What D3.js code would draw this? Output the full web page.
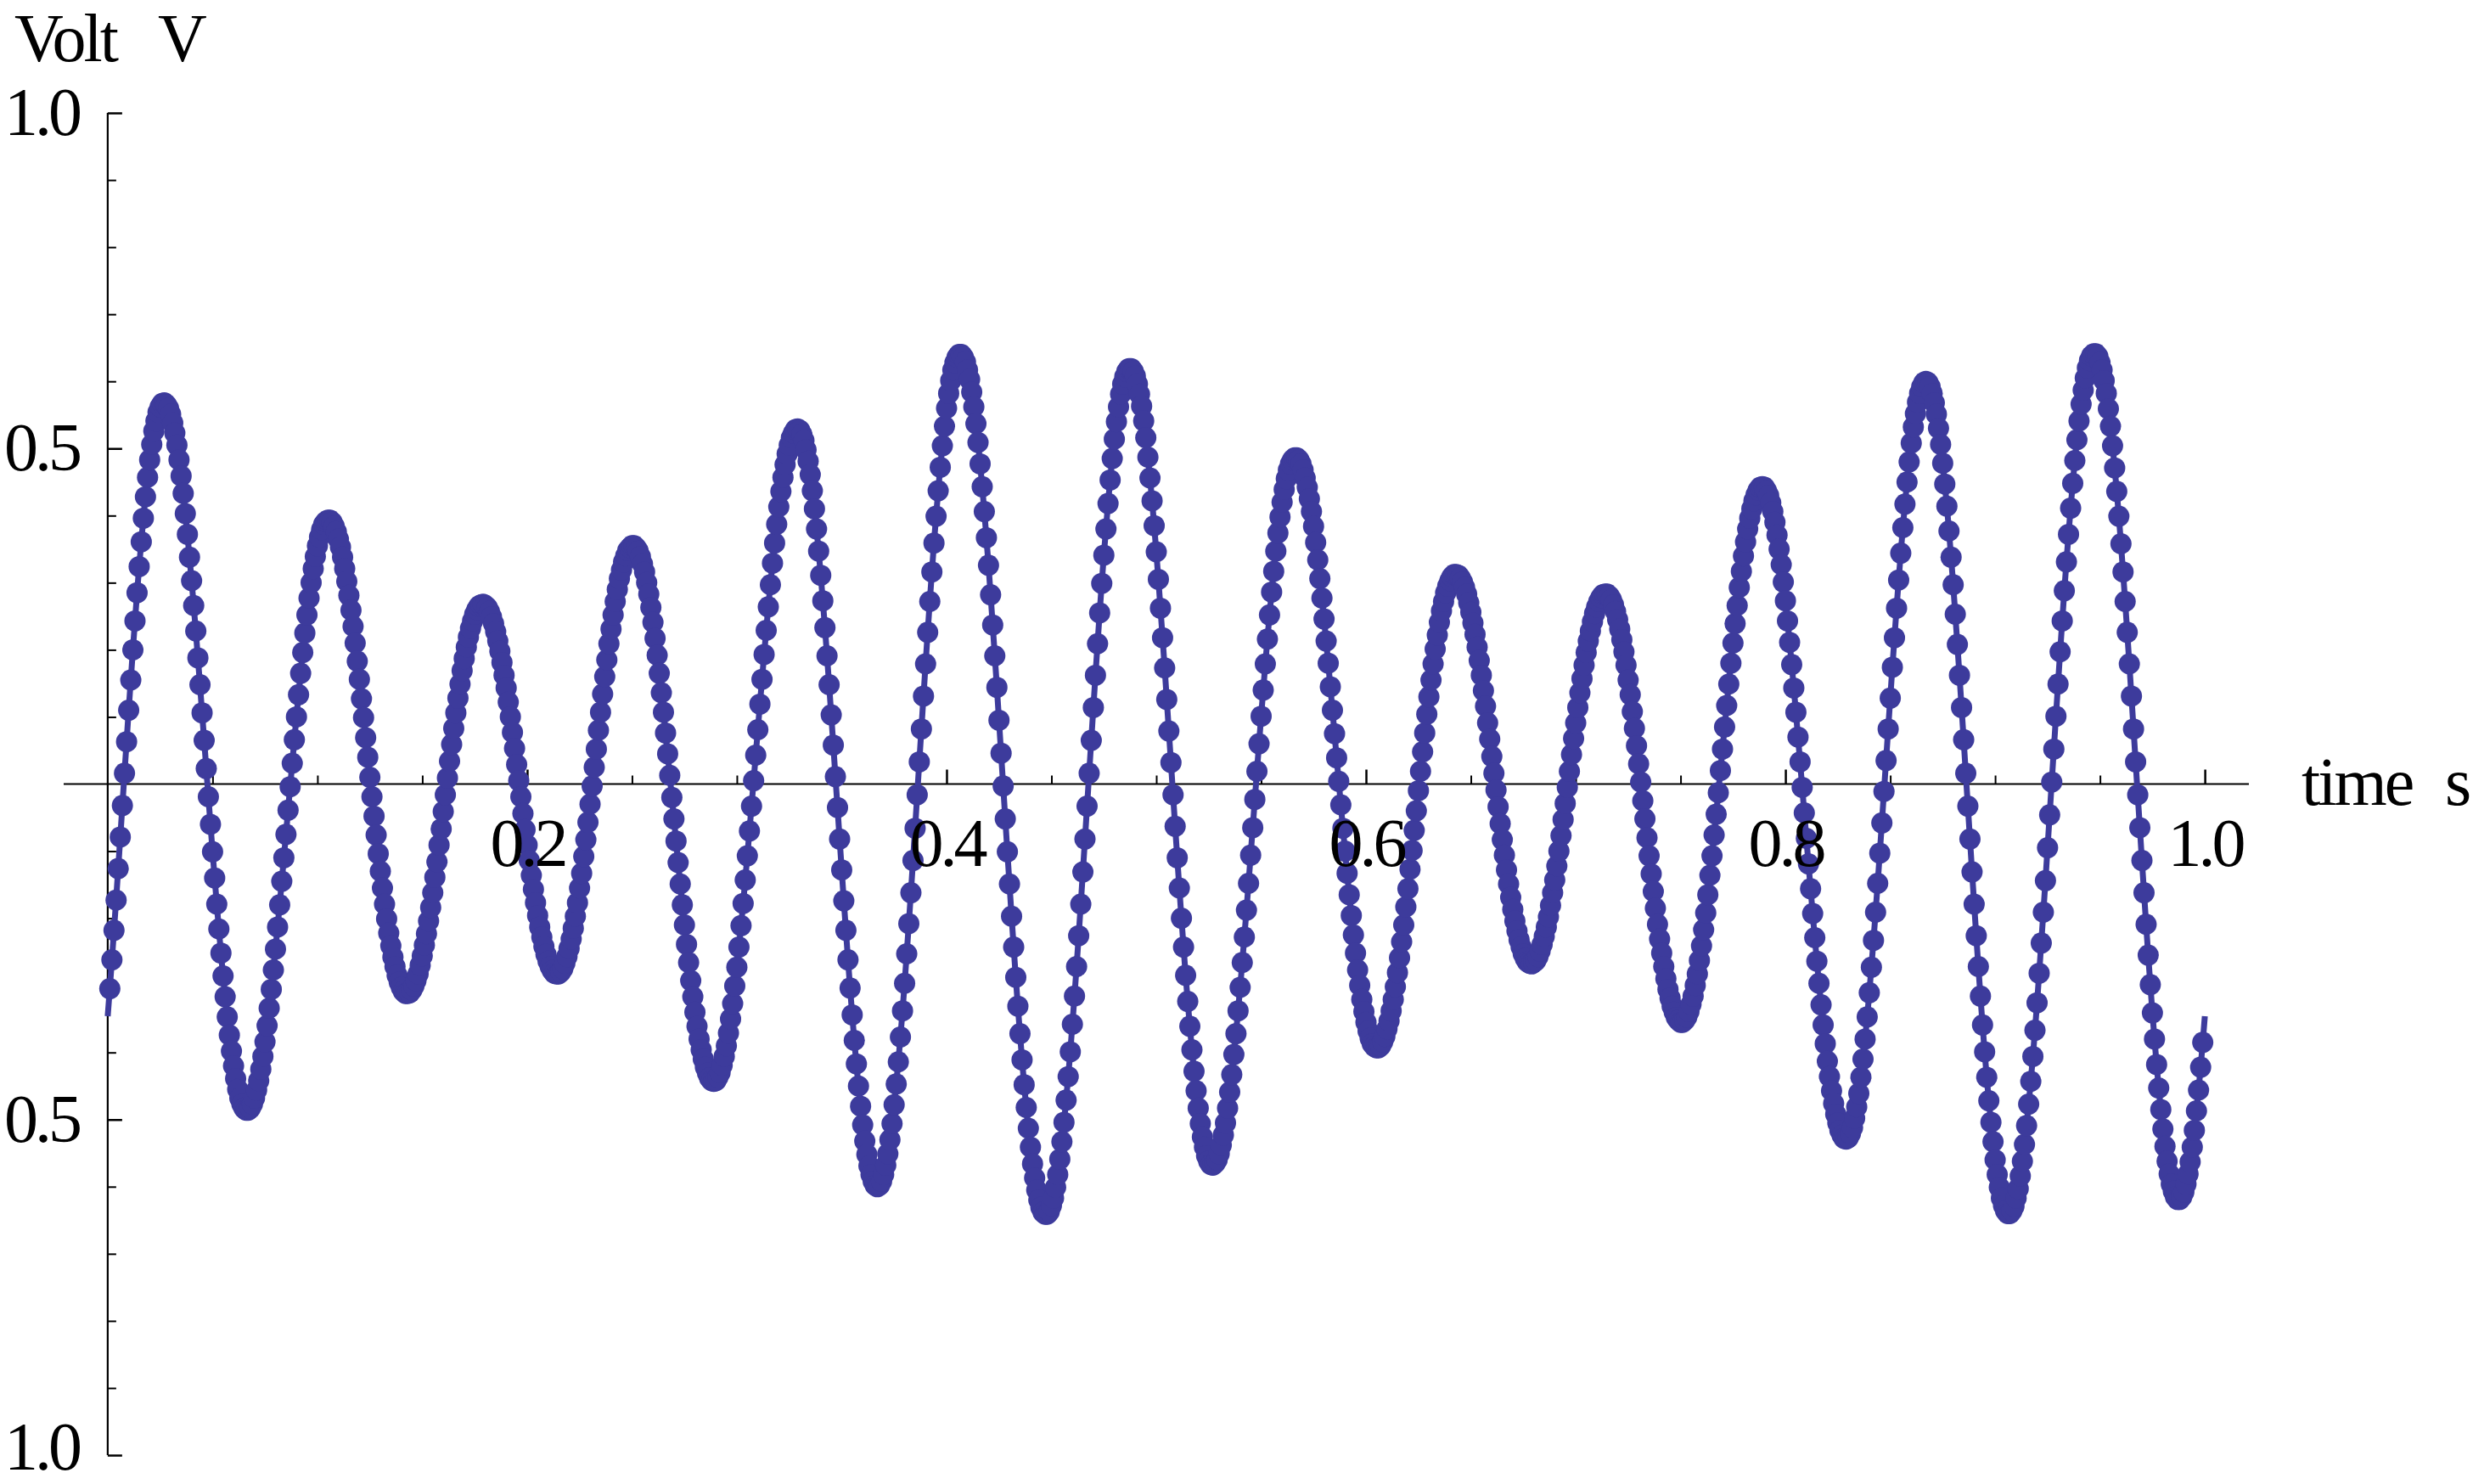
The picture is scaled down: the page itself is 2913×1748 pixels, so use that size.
<!DOCTYPE html>
<html><head><meta charset="utf-8">
<script src="https://cdn.jsdelivr.net/npm/d3@7"></script>
<style>
html,body{margin:0;padding:0;background:#fff;}
svg{display:block;background:#fff;}
</style></head><body>
<svg id="chart" width="2913" height="1748"></svg>
<script>
const sampleStep = 0.001;
const volts = [
-0.346,-0.305,-0.262,-0.218,-0.173,-0.126,-0.079,-0.032,0.016,0.063,0.110,0.155,0.200,0.243,0.285,0.324,0.361,0.396,0.428,0.457,0.483,0.506,0.526,0.541,0.554,0.562,0.567,
0.568,0.565,0.560,0.551,0.538,0.523,0.505,0.483,0.459,0.433,0.403,0.372,0.338,0.303,0.266,0.228,0.188,0.148,0.106,0.065,0.023,-0.019,-0.060,-0.101,-0.140,-0.179,-0.216,-0.252,-0.286,-0.317,-0.347,-0.374,-0.398,-0.420,-0.439,-0.455,-0.468,-0.477,-0.483,-0.486,
-0.486,-0.483,-0.477,-0.468,-0.456,-0.442,-0.425,-0.406,-0.384,-0.360,-0.334,-0.306,-0.277,-0.246,-0.213,-0.180,-0.145,-0.110,-0.075,-0.039,-0.004,0.031,0.066,0.100,0.133,0.165,0.196,0.225,0.252,0.277,0.300,0.321,0.339,0.355,0.368,0.379,0.387,0.391,0.393,
0.393,0.390,0.384,0.376,0.365,0.353,0.338,0.321,0.302,0.281,0.259,0.235,0.210,0.183,0.156,0.127,0.099,0.069,0.040,0.010,-0.019,-0.048,-0.076,-0.104,-0.130,-0.155,-0.179,-0.201,-0.222,-0.241,-0.258,-0.272,-0.285,-0.295,-0.303,-0.309,-0.312,
-0.312,-0.311,-0.307,-0.301,-0.293,-0.283,-0.270,-0.256,-0.240,-0.223,-0.204,-0.184,-0.162,-0.139,-0.116,-0.091,-0.067,-0.041,-0.016,0.009,0.034,0.059,0.083,0.106,0.128,0.149,0.169,0.187,0.204,0.219,0.232,0.243,0.253,0.260,0.265,0.267,
0.268,0.266,0.263,0.257,0.249,0.239,0.227,0.213,0.198,0.181,0.162,0.143,0.122,0.100,0.077,0.053,0.029,0.005,-0.019,-0.044,-0.068,-0.091,-0.114,-0.136,-0.157,-0.177,-0.196,-0.213,-0.228,-0.242,-0.254,-0.264,-0.272,-0.278,-0.282,-0.283,
-0.283,-0.280,-0.275,-0.267,-0.257,-0.245,-0.231,-0.215,-0.197,-0.177,-0.155,-0.133,-0.108,-0.083,-0.057,-0.030,-0.003,0.025,0.052,0.080,0.107,0.134,0.160,0.185,0.209,0.231,0.252,0.272,0.290,0.306,0.319,0.331,0.340,0.348,0.352,0.355,
0.355,0.352,0.347,0.339,0.328,0.316,0.300,0.283,0.263,0.241,0.217,0.192,0.165,0.136,0.107,0.076,0.045,0.013,-0.020,-0.052,-0.085,-0.117,-0.149,-0.180,-0.210,-0.239,-0.266,-0.293,-0.317,-0.340,-0.361,-0.380,-0.396,-0.410,-0.422,-0.431,-0.438,-0.442,-0.443,
-0.442,-0.437,-0.430,-0.419,-0.406,-0.390,-0.371,-0.350,-0.327,-0.301,-0.273,-0.243,-0.211,-0.178,-0.143,-0.107,-0.070,-0.033,0.005,0.043,0.081,0.119,0.156,0.193,0.229,0.264,0.297,0.329,0.359,0.387,0.413,0.436,0.457,0.476,0.492,0.505,0.516,0.523,0.528,0.529,
0.527,0.521,0.512,0.498,0.481,0.461,0.437,0.410,0.380,0.347,0.311,0.273,0.233,0.191,0.148,0.103,0.058,0.011,-0.035,-0.082,-0.128,-0.174,-0.218,-0.262,-0.304,-0.344,-0.382,-0.417,-0.450,-0.480,-0.508,-0.532,-0.552,-0.569,-0.582,-0.592,-0.598,-0.600,
-0.598,-0.592,-0.582,-0.568,-0.551,-0.530,-0.506,-0.478,-0.447,-0.414,-0.377,-0.338,-0.297,-0.253,-0.208,-0.162,-0.114,-0.066,-0.016,0.033,0.082,0.131,0.179,0.226,0.272,0.316,0.359,0.399,0.437,0.472,0.504,0.533,0.560,0.582,0.601,0.617,0.628,0.636,0.640,
0.640,0.636,0.629,0.617,0.603,0.584,0.562,0.537,0.509,0.477,0.443,0.406,0.367,0.326,0.282,0.237,0.191,0.144,0.095,0.046,-0.003,-0.052,-0.101,-0.149,-0.197,-0.243,-0.288,-0.331,-0.372,-0.411,-0.448,-0.482,-0.513,-0.541,-0.566,-0.587,-0.605,-0.620,-0.631,-0.638,-0.641,
-0.641,-0.637,-0.628,-0.617,-0.601,-0.582,-0.559,-0.533,-0.504,-0.471,-0.436,-0.399,-0.358,-0.316,-0.272,-0.226,-0.179,-0.131,-0.082,-0.033,0.016,0.065,0.114,0.162,0.209,0.255,0.299,0.341,0.380,0.418,0.453,0.485,0.514,0.540,0.562,0.581,0.596,0.607,0.615,0.619,
0.619,0.615,0.608,0.596,0.581,0.563,0.541,0.516,0.487,0.456,0.422,0.385,0.346,
0.305,0.262,0.218,0.173,0.126,0.079,0.032,-0.016,-0.063,-0.110,-0.155,-0.200,-0.243,-0.285,-0.324,-0.361,-0.396,-0.428,-0.457,-0.483,-0.506,-0.526,-0.541,-0.554,-0.562,-0.567,
-0.568,-0.565,-0.560,-0.551,-0.538,-0.523,-0.505,-0.483,-0.459,-0.433,-0.403,-0.372,-0.338,-0.303,-0.266,-0.228,-0.188,-0.148,-0.106,-0.065,-0.023,0.019,0.060,0.101,0.140,0.179,0.216,0.252,0.286,0.317,0.347,0.374,0.398,0.420,0.439,0.455,0.468,0.477,0.483,0.486,
0.486,0.483,0.477,0.468,0.456,0.442,0.425,0.406,0.384,0.360,0.334,0.306,0.277,0.246,0.213,0.180,0.145,0.110,0.075,0.039,0.004,-0.031,-0.066,-0.100,-0.133,-0.165,-0.196,-0.225,-0.252,-0.277,-0.300,-0.321,-0.339,-0.355,-0.368,-0.379,-0.387,-0.391,-0.393,
-0.393,-0.390,-0.384,-0.376,-0.365,-0.353,-0.338,-0.321,-0.302,-0.281,-0.259,-0.235,-0.210,-0.183,-0.156,-0.127,-0.099,-0.069,-0.040,-0.010,0.019,0.048,0.076,0.104,0.130,0.155,0.179,0.201,0.222,0.241,0.258,0.272,0.285,0.295,0.303,0.309,0.312,
0.312,0.311,0.307,0.301,0.293,0.283,0.270,0.256,0.240,0.223,0.204,0.184,0.162,0.139,0.116,0.091,0.067,0.041,0.016,-0.009,-0.034,-0.059,-0.083,-0.106,-0.128,-0.149,-0.169,-0.187,-0.204,-0.219,-0.232,-0.243,-0.253,-0.260,-0.265,-0.267,
-0.268,-0.266,-0.263,-0.257,-0.249,-0.239,-0.227,-0.213,-0.198,-0.181,-0.162,-0.143,-0.122,-0.100,-0.077,-0.053,-0.029,-0.005,0.019,0.044,0.068,0.091,0.114,0.136,0.157,0.177,0.196,0.213,0.228,0.242,0.254,0.264,0.272,0.278,0.282,0.283,
0.283,0.280,0.275,0.267,0.257,0.245,0.231,0.215,0.197,0.177,0.155,0.133,0.108,0.083,0.057,0.030,0.003,-0.025,-0.052,-0.080,-0.107,-0.134,-0.160,-0.185,-0.209,-0.231,-0.252,-0.272,-0.290,-0.306,-0.319,-0.331,-0.340,-0.348,-0.352,-0.355,
-0.355,-0.352,-0.347,-0.339,-0.328,-0.316,-0.300,-0.283,-0.263,-0.241,-0.217,-0.192,-0.165,-0.136,-0.107,-0.076,-0.045,-0.013,0.020,0.052,0.085,0.117,0.149,0.180,0.210,0.239,0.266,0.293,0.317,0.340,0.361,0.380,0.396,0.410,0.422,0.431,0.438,0.442,0.443,
0.442,0.437,0.430,0.419,0.406,0.390,0.371,0.350,0.327,0.301,0.273,0.243,0.211,0.178,0.143,0.107,0.070,0.033,-0.005,-0.043,-0.081,-0.119,-0.156,-0.193,-0.229,-0.264,-0.297,-0.329,-0.359,-0.387,-0.413,-0.436,-0.457,-0.476,-0.492,-0.505,-0.516,-0.523,-0.528,-0.529,
-0.527,-0.521,-0.512,-0.498,-0.481,-0.461,-0.437,-0.410,-0.380,-0.347,-0.311,-0.273,-0.233,-0.191,-0.148,-0.103,-0.058,-0.011,0.035,0.082,0.128,0.174,0.218,0.262,0.304,0.344,0.382,0.417,0.450,0.480,0.508,0.532,0.552,0.569,0.582,0.592,0.598,0.600,
0.598,0.592,0.582,0.568,0.551,0.530,0.506,0.478,0.447,0.414,0.377,0.338,0.297,0.253,0.208,0.162,0.114,0.066,0.016,-0.033,-0.082,-0.131,-0.179,-0.226,-0.272,-0.316,-0.359,-0.399,-0.437,-0.472,-0.504,-0.533,-0.560,-0.582,-0.601,-0.617,-0.628,-0.636,-0.640,
-0.640,-0.636,-0.629,-0.617,-0.603,-0.584,-0.562,-0.537,-0.509,-0.477,-0.443,-0.406,-0.367,-0.326,-0.282,-0.237,-0.191,-0.144,-0.095,-0.046,0.003,0.052,0.101,0.149,0.197,0.243,0.288,0.331,0.372,0.411,0.448,0.482,0.513,0.541,0.566,0.587,0.605,0.620,0.631,0.638,0.641,
0.641,0.637,0.628,0.617,0.601,0.582,0.559,0.533,0.504,0.471,0.436,0.399,0.358,0.316,0.272,0.226,0.179,0.131,0.082,0.033,-0.016,-0.065,-0.114,-0.162,-0.209,-0.255,-0.299,-0.341,-0.380,-0.418,-0.453,-0.485,-0.514,-0.540,-0.562,-0.581,-0.596,-0.607,-0.615,-0.619,
-0.619,-0.615,-0.608,-0.596,-0.581,-0.563,-0.541,-0.516,-0.487,-0.456,-0.422,-0.385,-0.346
];

const xMajorTicks = [0.2, 0.4, 0.6, 0.8, 1.0];
const xTickLabels = ["0.2", "0.4", "0.6", "0.8", "1.0"];
const xMinorTicks = [0.05, 0.1, 0.15, 0.25, 0.3, 0.35, 0.45, 0.5, 0.55, 0.65, 0.7, 0.75, 0.85, 0.9, 0.95];
const yMajorTicks = [-1, -0.5, 0.5, 1];
const yTickLabels = ["1.0", "0.5", "0.5", "1.0"];
const yMinorTicks = [-0.9, -0.8, -0.7, -0.6, -0.4, -0.3, -0.2, -0.1, 0.1, 0.2, 0.3, 0.4, 0.6, 0.7, 0.8, 0.9];
const xAxisLabel = ["time", "s"];
const yAxisLabel = ["Volt", "V"];

const W = 2913, H = 1748;
const FONT = '"Liberation Serif","Times New Roman",Times,serif';
const COLOR = "#3d3b9c";

const svg = d3.select("#chart");
svg.append("rect").attr("width", W).attr("height", H).attr("fill", "#fff");

const x = d3.scaleLinear().domain([-0.021, 1.021]).range([75, 2649]);
const y = d3.scaleLinear().domain([-1, 1]).range([1714, 133]);

const data = volts.map((v, i) => ({ t: i * sampleStep, v }));

// axis lines
svg.append("line").attr("x1", x.range()[0]).attr("x2", x.range()[1])
  .attr("y1", y(0)).attr("y2", y(0)).attr("stroke", "#000").attr("stroke-width", 2.2);
svg.append("line").attr("x1", x(0)).attr("x2", x(0))
  .attr("y1", y(-1)).attr("y2", y(1)).attr("stroke", "#000").attr("stroke-width", 2.2);

function styleTicks(g, w) {
  g.select(".domain").remove();
  g.selectAll(".tick line").attr("stroke", "#000").attr("stroke-width", w);
}

// x ticks (pointing up)
svg.append("g").attr("transform", `translate(0,${y(0)})`)
  .call(d3.axisBottom(x).tickValues(xMinorTicks).tickSizeInner(-10).tickSizeOuter(0).tickFormat(""))
  .call(g => styleTicks(g, 2));
svg.append("g").attr("transform", `translate(0,${y(0)})`)
  .call(d3.axisBottom(x).tickValues(xMajorTicks).tickSizeInner(-17).tickSizeOuter(0).tickFormat(""))
  .call(g => styleTicks(g, 2.5));

// y ticks (pointing right)
svg.append("g").attr("transform", `translate(${x(0)},0)`)
  .call(d3.axisLeft(y).tickValues(yMinorTicks).tickSizeInner(-10).tickSizeOuter(0).tickFormat(""))
  .call(g => styleTicks(g, 2));
svg.append("g").attr("transform", `translate(${x(0)},0)`)
  .call(d3.axisLeft(y).tickValues(yMajorTicks).tickSizeInner(-17).tickSizeOuter(0).tickFormat(""))
  .call(g => styleTicks(g, 2.5));

// data: line then points
const line = d3.line().x(d => x(d.t)).y(d => y(d.v));
svg.append("path").datum(data).attr("d", line)
  .attr("fill", "none").attr("stroke", COLOR).attr("stroke-width", 7).attr("stroke-linejoin", "round");
svg.append("g").selectAll("circle").data(data.slice(1, data.length - 1)).join("circle")
  .attr("cx", d => x(d.t)).attr("cy", d => y(d.v)).attr("r", 12.5).attr("fill", COLOR);

// tick labels on top
function styleLabels(g) {
  g.select(".domain").remove();
  g.selectAll(".tick line").remove();
  g.attr("font-family", FONT).attr("font-size", 80);
  g.selectAll("text").attr("fill", "#000").style("letter-spacing", "-4px");
}
svg.append("g").attr("transform", `translate(0,${y(0)})`)
  .call(d3.axisBottom(x).tickValues(xMajorTicks).tickSize(0).tickPadding(40)
    .tickFormat((d, i) => xTickLabels[i]))
  .call(styleLabels);
svg.append("g").attr("transform", `translate(${x(0)},0)`)
  .call(d3.axisLeft(y).tickValues(yMajorTicks).tickSize(0).tickPadding(34)
    .tickFormat((d, i) => yTickLabels[yMajorTicks.indexOf(d)]))
  .call(styleLabels)
  // keep the lowest label fully inside the picture
  .call(g => g.selectAll(".tick").filter(d => d === -1).select("text").attr("dy", "0.2em"));

// axis labels
const xl = svg.append("text").attr("font-family", FONT).attr("font-size", 80)
  .attr("y", 948).style("letter-spacing", "-3px");
xl.append("tspan").attr("x", 2711).text(xAxisLabel[0]);
xl.append("tspan").attr("x", 2880).text(xAxisLabel[1]);
const yl = svg.append("text").attr("font-family", FONT).attr("font-size", 80)
  .attr("y", 72).style("letter-spacing", "-3px");
yl.append("tspan").attr("x", 17).text(yAxisLabel[0]);
yl.append("tspan").attr("x", 186).text(yAxisLabel[1]);
</script>
</body></html>
